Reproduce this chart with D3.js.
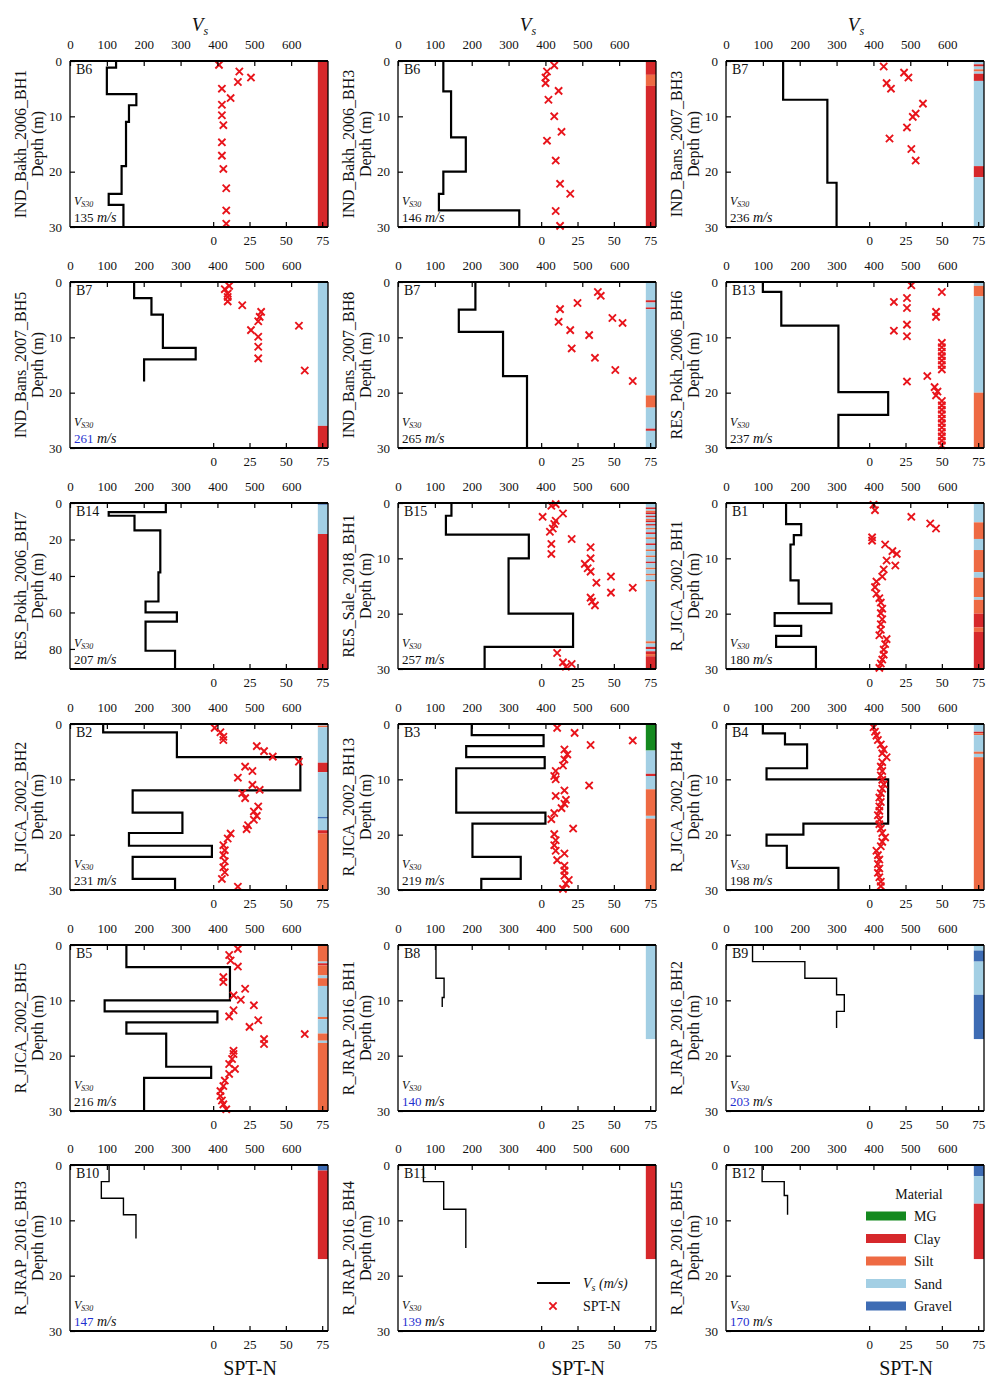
<!DOCTYPE html>
<html>
<head>
<meta charset="utf-8">
<script src="https://cdn.jsdelivr.net/npm/d3@7"></script>
<style>
  body { margin: 0; background: #fff; }
  text { font-family: "Liberation Serif", "Times New Roman", serif; fill: #111; }
</style>
</head>
<body>
<div id="chart"></div>
<script>
// borehole names, site labels and Vs30 values, one per panel (left to right, top to bottom)
var boreholes = ["IND_Bakh_2006_BH1", "IND_Bakh_2006_BH3", "IND_Bans_2007_BH3",
  "IND_Bans_2007_BH5", "IND_Bans_2007_BH8", "RES_Pokh_2006_BH6",
  "RES_Pokh_2006_BH7", "RES_Sale_2018_BH1", "R_JICA_2002_BH1",
  "R_JICA_2002_BH2", "R_JICA_2002_BH13", "R_JICA_2002_BH4",
  "R_JICA_2002_BH5", "R_JRAP_2016_BH1", "R_JRAP_2016_BH2",
  "R_JRAP_2016_BH3", "R_JRAP_2016_BH4", "R_JRAP_2016_BH5"];
var siteLabels = ["B6", "B6", "B7", "B7", "B7", "B13", "B14", "B15", "B1",
  "B2", "B3", "B4", "B5", "B8", "B9", "B10", "B11", "B12"];
var vs30 = [135, 146, 236, 261, 265, 237, 207, 257, 180, 231, 219, 198, 216, 140, 203, 147, 139, 170];
var vs30Extrapolated = [false, false, false, true, false, false, false, false, false,
  false, false, false, false, true, true, true, true, true];
var maxDepth = [30, 30, 30, 30, 30, 30, 91, 30, 30, 30, 30, 30, 30, 30, 30, 30, 30, 30];

var vsTicks = [0, 100, 200, 300, 400, 500, 600];
var sptTicks = [0, 25, 50, 75];
var materials = ["MG", "Clay", "Silt", "Sand", "Gravel"];
var materialColors = ["#14891f", "#d6282b", "#ee6a43", "#a3cfe4", "#3e6cb4"];

// Vs profiles: [top depth, bottom depth, Vs (m/s)]
var vs1 = [[0,1.2,125],[1.2,6,100],[6,8,180],[8,11,160],[11,19,152],[19,24,140],[24,26,105],[26,30,145]];
var vs2 = [[0,5.5,123],[5.5,13.8,144],[13.8,20,184],[20,24,123],[24,27,111],[27,30,329]];
var vs3 = [[0,7,155],[7,22,275],[22,30,300]];
var vs4 = [[0,2.9,174],[2.9,5.9,221],[5.9,11.9,252],[11.9,14,341],[14,18,201]];
var vs5 = [[0,5,210],[5,9,165],[9,17,285],[17,30,350]];
var vs6 = [[0,1.8,100],[1.8,7.9,150],[7.9,19.9,305],[19.9,24,440],[24,30,305]];
var vs7 = [[0,5,260],[5,7,105],[7,15,175],[15,38,245],[38,54,240],[54,60,205],[60,65,290],[65,81,205],[81,91,285]];
var vs8 = [[0,2.3,145],[2.3,5.7,130],[5.7,10,355],[10,20,300],[20,26,475],[26,30,235]];
var vs9 = [[0,3.8,163],[3.8,5.8,204],[5.8,7.5,184],[7.5,14,175],[14,18.2,197],[18.2,19.9,286],[19.9,22.2,132],[22.2,24,204],[24,26,136],[26,30,244]];
var vs10 = [[0,1.5,90],[1.5,6,290],[6,12,625],[12,16,170],[16,19.7,305],[19.7,22,160],[22,24,385],[24,28,170],[28,30,285]];
var vs11 = [[0,2,200],[2,4,395],[4,6,185],[6,8,398],[8,16,158],[16,18,400],[18,24,202],[24,28,333],[28,30,226]];
var vs12 = [[0,1.7,100],[1.7,3.7,160],[3.7,8,220],[8,10,110],[10,18,440],[18,20,210],[20,22,110],[22,26,165],[26,30,305]];
var vs13 = [[0,4,153],[4,10,434],[10,12,94],[12,14,400],[14,16,153],[16,22,261],[22,24,383],[24,30,201]];
var vs14 = [[0,6,103],[6,9.5,125],[9.5,11.2,120]];
var vs15 = [[0,3,72],[3,6,214],[6,9,300],[9,12,321],[12,15,300]];
var vs16 = [[0,3,106],[3,6,85],[6,9,145],[9,13.3,179]];
var vs17 = [[0,3,69],[3,8,124],[8,15,184]];
var vs18 = [[0,3,98],[3,5.5,158],[5.5,9,167]];

// SPT-N blow counts: [depth, N]
var spt1 = [[0.7,4],[1.9,18],[3,26],[3.8,17],[5,6],[6.7,12],[7.9,6],[9.8,6],[11.6,7],[14.7,6],[17.1,6],[19.5,7],[23,9],[27,9],[29.4,9]];
var spt2 = [[0.8,9],[1.9,4],[3,3],[4,3],[5.4,12],[7,5],[10,9],[12.8,14],[14.4,4],[18,10],[22.2,13],[24,20],[27.1,10],[29.8,13]];
var spt3 = [[1,10],[2.1,24],[3,27],[4,12],[5,15],[7.7,37],[9.5,32],[10.1,30],[12,26],[14,14],[15.9,29],[18,32]];
var spt4 = [[0.7,11],[1.3,8],[2.1,10],[2.7,10],[3.5,10],[4.2,20],[5.4,33],[6.3,32],[7.1,31],[7.9,59],[8.7,26],[9.9,31],[11.7,31],[13.8,31],[16,63]];
var spt5 = [[1.8,39],[2.5,41],[3.8,25],[4.9,13],[6.5,49],[7.2,12],[7.4,56],[8.7,20],[9.6,33],[12,21],[13.7,37],[15.9,51],[17.9,63]];
var spt6 = [[0.6,29],[1.8,50],[2.9,26],[3.6,17],[4.7,26],[5.4,46],[6.3,46],[7.7,26],[8.8,17],[9.8,26],[11,50],[11.8,50],[12.6,50],[13.4,50],[14.2,50],[15,50],[15.8,50],[17,40],[18,26],[19,45],[19.8,47],[20.5,46],[21.5,50],[22.3,50],[23.1,50],[23.9,50],[24.7,50],[25.5,50],[26.3,50],[27.1,50],[27.9,50],[28.7,50],[29.5,50]];
var spt7 = [];
var spt8 = [[0.2,10],[0.5,7],[1.9,15],[2.5,1],[3.2,10],[3.8,9],[4.6,8],[5.2,6],[6.5,21],[7.4,7],[8,34],[9.2,7],[10,34],[11,30],[11.8,32],[12.4,34],[13.3,48],[14.4,38],[15.3,63],[16.2,48],[17.1,34],[17.8,35],[18.5,37],[27.1,11],[28.8,15],[29.1,21],[29.6,17]];
var spt9 = [[0.3,3],[1.3,4],[2.5,29],[3.7,42],[4.6,46],[6.2,2],[6.8,2],[7.5,11],[8.7,16],[9.2,19],[10.4,12],[11.3,18],[12,10],[13.3,9],[14.2,5],[15.2,4],[16.4,5],[17.2,7],[18,8],[19.1,9],[19.9,8],[21,9],[21.9,8],[22.9,8],[23.9,7],[24.6,12],[25.5,11],[26.5,10],[27.4,10],[28.3,9],[29,8],[29.8,7]];
var spt10 = [[0.7,1],[1.5,5],[2.3,7],[2.9,7],[4,30],[4.9,35],[5.9,41],[6.8,59],[7.7,22],[8.5,27],[9.7,17],[11,27],[11.9,32],[12.5,20],[13.4,22],[14.9,31],[15.8,28],[16.6,30],[17.3,28],[18.3,24],[19,23],[19.8,12],[20.7,10],[21.9,7],[22.8,8],[23.7,7],[24.8,8],[25.9,7],[26.8,8],[28,6],[29.4,17]];
var spt11 = [[0.7,11],[1.6,23],[3,63],[3.8,34],[4.6,16],[5.5,18],[6.4,16],[7.5,15],[8.5,10],[9.4,9],[10,10],[11.1,33],[12,16],[13,10],[13.7,17],[14.4,16],[15.2,14],[16.1,9],[17.2,7],[18.9,22],[19.9,9],[21,10],[21.9,9],[22.9,10],[23.4,16],[24.6,11],[25.6,16],[26.5,16],[27.4,16],[28.2,19],[28.9,17],[29.8,15]];
var spt12 = [[0.6,3],[1.4,4],[2.1,5],[2.9,6],[3.7,8],[4.6,10],[5.3,9],[6,12],[6.9,9],[7.7,8],[8.5,9],[9.3,8],[10.1,9],[10.9,10],[11.7,9],[12.5,8],[13.3,7],[14.1,8],[14.9,7],[15.7,7],[16.5,6],[17.3,7],[18.1,7],[18.9,8],[19.7,9],[20.5,11],[21.3,9],[22.1,8],[22.9,5],[23.7,6],[24.5,7],[25.3,6],[26.1,7],[26.9,6],[27.7,7],[28.5,8],[29.3,8]];
var spt13 = [[0.7,17],[1.8,11],[2.8,12],[3.9,17],[5.8,7],[6.7,7],[7.9,22],[9.1,14],[9.9,19],[10.9,28],[11.8,14],[12.9,11],[13.6,31],[14.8,25],[16.1,63],[17,35],[17.9,35],[19.1,14],[19.7,14],[20.6,13],[21.5,11],[22.4,15],[23.3,11],[24.5,8],[25.5,7],[26.4,5],[27.3,5],[28.1,6],[28.8,7],[29.7,9]];
var spt14 = [], spt15 = [], spt16 = [], spt17 = [], spt18 = [];

// material logs: [top depth, bottom depth, material]
var mat1 = [[0,30,"Clay"]];
var mat2 = [[0,2.5,"Clay"],[2.5,4.5,"Silt"],[4.5,30,"Clay"]];
var mat3 = [[0,0.6,"Sand"],[0.6,1,"Clay"],[1,1.5,"Sand"],[1.5,1.9,"Silt"],[1.9,2.3,"Sand"],[2.3,3.6,"Clay"],[3.6,19,"Sand"],[19,21,"Clay"],[21,30,"Sand"]];
var mat4 = [[0,26,"Sand"],[26,30,"Clay"]];
var mat5 = [[0,3.3,"Sand"],[3.3,3.7,"Clay"],[3.7,4.6,"Sand"],[4.6,4.9,"Clay"],[4.9,20.5,"Sand"],[20.5,22.7,"Silt"],[22.7,26.5,"Sand"],[26.5,26.9,"Clay"],[26.9,30,"Sand"]];
var mat6 = [[0,0.7,"Sand"],[0.7,2.6,"Silt"],[2.6,20,"Sand"],[20,30,"Silt"]];
var mat7 = [[0,1,"Gravel"],[1,17,"Sand"],[17,91,"Clay"]];
var mat8 = [[0,0.8,"Sand"],[0.8,1.1,"Clay"],[1.1,1.4,"Sand"],[1.4,1.7,"Silt"],[1.7,2,"Clay"],[2,2.3,"Sand"],[2.3,2.6,"Clay"],[2.6,2.9,"Sand"],[2.9,3.2,"Silt"],[3.2,3.5,"Clay"],[3.5,3.8,"Sand"],[3.8,4.1,"Clay"],[4.1,4.5,"Sand"],[4.5,4.8,"Silt"],[4.8,5.3,"Sand"],[5.3,5.6,"Clay"],[5.6,6.2,"Sand"],[6.2,6.5,"Silt"],[6.5,7.3,"Sand"],[7.3,7.6,"Clay"],[7.6,8.4,"Sand"],[8.4,8.7,"Silt"],[8.7,9.5,"Sand"],[9.5,9.8,"Silt"],[9.8,10.6,"Sand"],[10.6,10.9,"Clay"],[10.9,11.7,"Sand"],[11.7,12,"Silt"],[12,12.8,"Sand"],[12.8,13.1,"Silt"],[13.1,13.9,"Sand"],[13.9,14.2,"Silt"],[14.2,25,"Sand"],[25,25.4,"Silt"],[25.4,26,"Sand"],[26,26.4,"Clay"],[26.4,26.8,"Sand"],[26.8,27.3,"Clay"],[27.3,27.7,"Silt"],[27.7,30,"Clay"]];
var mat9 = [[0,3.5,"Sand"],[3.5,6.5,"Silt"],[6.5,8.5,"Sand"],[8.5,12.5,"Silt"],[12.5,13.5,"Sand"],[13.5,17,"Silt"],[17,17.5,"Sand"],[17.5,20,"Silt"],[20,22.5,"Clay"],[22.5,23.3,"Silt"],[23.3,30,"Clay"]];
var mat10 = [[0,0.3,"Sand"],[0.3,0.6,"Silt"],[0.6,7,"Sand"],[7,8.7,"Clay"],[8.7,16.8,"Sand"],[16.8,17.1,"Gravel"],[17.1,19.2,"Sand"],[19.2,19.8,"Clay"],[19.8,30,"Silt"]];
var mat11 = [[0,4.8,"MG"],[4.8,9,"Sand"],[9,9.4,"Clay"],[9.4,11.8,"Sand"],[11.8,16.6,"Silt"],[16.6,17.1,"Sand"],[17.1,30,"Silt"]];
var mat12 = [[0,1.4,"Sand"],[1.4,1.7,"Clay"],[1.7,2,"Silt"],[2,5,"Sand"],[5,5.4,"Silt"],[5.4,6,"Sand"],[6,30,"Silt"]];
var mat13 = [[0,3,"Silt"],[3,3.3,"Sand"],[3.3,3.7,"Clay"],[3.7,5.5,"Silt"],[5.5,6,"Sand"],[6,7.4,"Silt"],[7.4,13,"Sand"],[13,13.4,"Silt"],[13.4,16,"Sand"],[16,17.3,"Silt"],[17.3,17.7,"Sand"],[17.7,30,"Silt"]];
var mat14 = [[0,17,"Sand"]];
var mat15 = [[0,1,"Sand"],[1,3,"Gravel"],[3,9,"Sand"],[9,17,"Gravel"]];
var mat16 = [[0,1,"Gravel"],[1,17,"Clay"]];
var mat17 = [[0,17,"Clay"]];
var mat18 = [[0,2,"Gravel"],[2,7,"Sand"],[7,17,"Clay"]];

var vsProfiles = [vs1, vs2, vs3, vs4, vs5, vs6, vs7, vs8, vs9, vs10, vs11, vs12, vs13, vs14, vs15, vs16, vs17, vs18];
var sptProfiles = [spt1, spt2, spt3, spt4, spt5, spt6, spt7, spt8, spt9, spt10, spt11, spt12, spt13, spt14, spt15, spt16, spt17, spt18];
var matProfiles = [mat1, mat2, mat3, mat4, mat5, mat6, mat7, mat8, mat9, mat10, mat11, mat12, mat13, mat14, mat15, mat16, mat17, mat18];

// layout
var panelW = 258, panelH = 166;
var colX = [70, 398, 726];
var rowY = [61, 282, 503, 724, 945, 1165];

var svg = d3.select("#chart").append("svg")
  .attr("width", 991)
  .attr("height", 1381);

var xVs = d3.scaleLinear().domain([0, 700]).range([0, panelW]);
var xSpt = d3.scaleLinear().domain([-98.5, 79]).range([0, panelW]);
var matColor = d3.scaleOrdinal().domain(materials).range(materialColors);

var crossPath = "M-3.6,-3.6L3.6,3.6M-3.6,3.6L3.6,-3.6";

boreholes.forEach(function(name, i) {
  var col = i % 3, row = Math.floor(i / 3);
  var g = svg.append("g")
    .attr("transform", "translate(" + colX[col] + "," + rowY[row] + ")");

  var y = d3.scaleLinear().domain([0, maxDepth[i]]).range([0, panelH]);
  var depthTicks = maxDepth[i] > 30 ? [0, 20, 40, 60, 80] : [0, 10, 20, 30];

  // material strip at the right edge
  g.selectAll("rect.mat")
    .data(matProfiles[i]).enter()
    .append("rect")
      .attr("class", "mat")
      .attr("x", xSpt(72))
      .attr("width", panelW - xSpt(72))
      .attr("y", function(d) { return y(d[0]); })
      .attr("height", function(d) { return y(d[1]) - y(d[0]); })
      .attr("fill", function(d) { return matColor(d[2]); });

  // Vs step profile
  var pts = [];
  vsProfiles[i].forEach(function(d) { pts.push([d[2], d[0]]); pts.push([d[2], d[1]]); });
  var thin = name.indexOf("JRAP") >= 0;
  g.append("path")
    .attr("d", d3.line().x(function(d) { return xVs(d[0]); }).y(function(d) { return y(d[1]); })(pts))
    .attr("fill", "none")
    .attr("stroke", "#000")
    .attr("stroke-width", thin ? 1.4 : 2.2);

  // SPT-N crosses
  g.selectAll("path.spt")
    .data(sptProfiles[i]).enter()
    .append("path")
      .attr("class", "spt")
      .attr("d", crossPath)
      .attr("transform", function(d) { return "translate(" + xSpt(d[1]) + "," + y(d[0]) + ")"; })
      .attr("stroke", "#e8141b")
      .attr("stroke-width", 1.9)
      .attr("fill", "none");

  // axes (ticks pointing inward)
  var top = g.append("g")
    .call(d3.axisTop(xVs).tickValues(vsTicks).tickSize(-5).tickSizeOuter(0).tickPadding(12));
  var bottom = g.append("g")
    .attr("transform", "translate(0," + panelH + ")")
    .call(d3.axisBottom(xSpt).tickValues(sptTicks).tickSize(-5).tickSizeOuter(0).tickPadding(9));
  var left = g.append("g")
    .call(d3.axisLeft(y).tickValues(depthTicks).tickSize(-5).tickSizeOuter(0).tickPadding(8));
  [top, bottom, left].forEach(function(a) {
    a.select(".domain").remove();
    a.selectAll("line").attr("stroke", "#000").attr("stroke-width", 1.2);
    a.selectAll("text")
      .style("font-family", "'Liberation Serif', serif")
      .style("font-size", "13px")
      .attr("fill", "#111");
  });

  // frame
  g.append("line").attr("x1", 0).attr("x2", panelW).attr("y1", 0).attr("y2", 0)
    .attr("stroke", "#000").attr("stroke-width", 2);
  g.append("line").attr("x1", 0).attr("x2", panelW).attr("y1", panelH).attr("y2", panelH)
    .attr("stroke", "#000").attr("stroke-width", 2);
  g.append("line").attr("x1", 0).attr("x2", 0).attr("y1", 0).attr("y2", panelH)
    .attr("stroke", "#000").attr("stroke-width", 1.3);
  g.append("line").attr("x1", panelW).attr("x2", panelW).attr("y1", 0).attr("y2", panelH)
    .attr("stroke", "#000").attr("stroke-width", 1.3);

  // y titles
  g.append("text")
    .attr("transform", "translate(-50," + (panelH / 2) + ") rotate(-90)")
    .attr("text-anchor", "middle")
    .attr("dy", "0.35em")
    .style("font-size", "16px")
    .text(name);
  g.append("text")
    .attr("transform", "translate(-33," + (panelH / 2) + ") rotate(-90)")
    .attr("text-anchor", "middle")
    .attr("dy", "0.35em")
    .style("font-size", "16px")
    .text("Depth (m)");

  // site label
  g.append("text")
    .attr("x", 6).attr("y", 13)
    .style("font-size", "14px")
    .text(siteLabels[i]);

  // Vs30 annotation
  var t1 = g.append("text").attr("x", 4).attr("y", panelH - 22).style("font-size", "12px");
  t1.append("tspan").style("font-style", "italic").text("V");
  t1.append("tspan").attr("dy", 2).style("font-size", "8px").style("font-style", "italic").text("S30");
  var t2 = g.append("text").attr("x", 4).attr("y", panelH - 5).style("font-size", "13px");
  t2.append("tspan").attr("fill", vs30Extrapolated[i] ? "#1f2fd0" : "#111").text(vs30[i]);
  t2.append("tspan").style("font-style", "italic").style("font-size", "14px").text(" m/s");

  // column titles
  if (row === 0) {
    var vt = g.append("text")
      .attr("x", 130).attr("y", -30)
      .attr("text-anchor", "middle")
      .style("font-size", "19px");
    vt.append("tspan").style("font-style", "italic").text("V");
    vt.append("tspan").attr("dy", 4).style("font-size", "12px").style("font-style", "italic").text("s");
  }
  if (row === 5) {
    g.append("text")
      .attr("x", 180).attr("y", panelH + 44)
      .attr("text-anchor", "middle")
      .style("font-size", "20px")
      .text("SPT-N");
  }

  // legend: Vs line and SPT-N marker
  if (i === 16) {
    g.append("line").attr("x1", 139).attr("x2", 172).attr("y1", 118).attr("y2", 118)
      .attr("stroke", "#000").attr("stroke-width", 2);
    var lt = g.append("text").attr("x", 185).attr("y", 123).style("font-size", "14px");
    lt.append("tspan").style("font-style", "italic").text("V");
    lt.append("tspan").attr("dy", 3).style("font-size", "10px").style("font-style", "italic").text("s");
    lt.append("tspan").attr("dy", -3).style("font-style", "italic").text(" (m/s)");
    g.append("path").attr("d", crossPath).attr("transform", "translate(155,141)")
      .attr("stroke", "#e8141b").attr("stroke-width", 1.9).attr("fill", "none");
    g.append("text").attr("x", 185).attr("y", 146).style("font-size", "14px").text("SPT-N");
  }

  // legend: materials
  if (i === 17) {
    g.append("text").attr("x", 193).attr("y", 34)
      .attr("text-anchor", "middle").style("font-size", "14px").text("Material");
    materials.forEach(function(m, k) {
      var cy = 51 + k * 22.5;
      g.append("rect").attr("x", 140).attr("y", cy - 4.5).attr("width", 40).attr("height", 9)
        .attr("fill", matColor(m));
      g.append("text").attr("x", 188).attr("y", cy + 5).style("font-size", "14px").text(m);
    });
  }
});
</script>
</body>
</html>
